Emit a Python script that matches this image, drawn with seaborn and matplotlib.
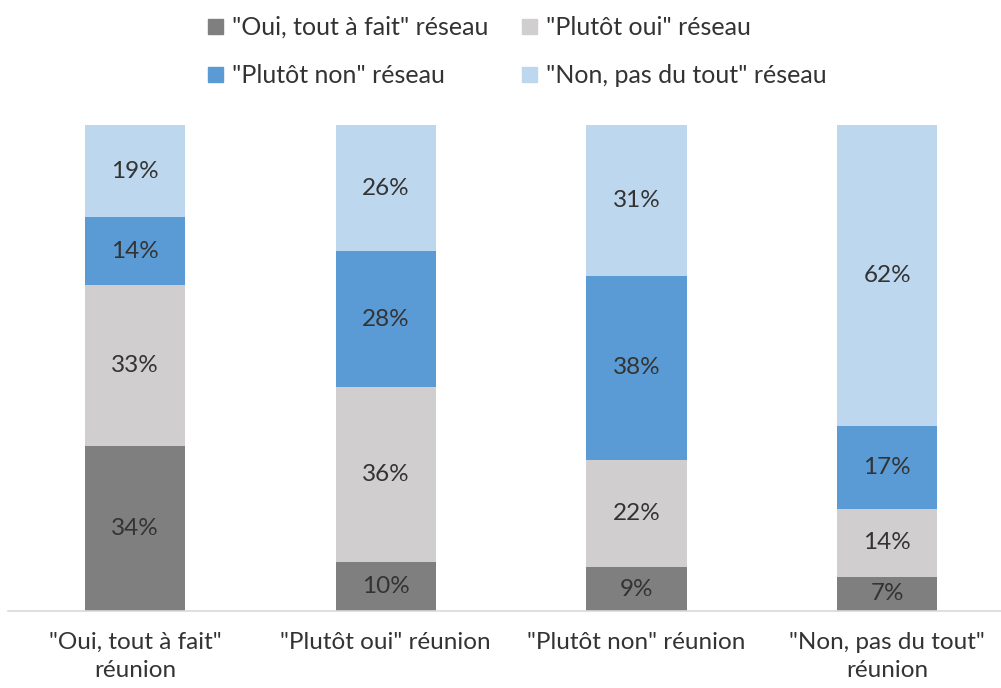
import numpy as np
import pandas as pd
import matplotlib
matplotlib.use("Agg")
import matplotlib.pyplot as plt
import seaborn as sns
from matplotlib.patches import Patch

# data (percent)
categories = ['"Oui, tout à fait"\nréunion', '"Plutôt oui" réunion',
              '"Plutôt non" réunion', '"Non, pas du tout"\nréunion']
series_names = ['"Oui, tout à fait" réseau', '"Plutôt oui" réseau',
                '"Plutôt non" réseau', '"Non, pas du tout" réseau']
oui_tout = [34, 10, 9, 7]
plutot_oui = [33, 36, 22, 14]
plutot_non = [14, 28, 38, 17]
non_pas = [19, 26, 31, 62]

colors = ["#7f7f7f", "#d0cece", "#5b9bd5", "#bdd7ee"]
txt = "#333333"

sns.set_theme(style="white")
plt.rcParams["font.family"] = ["Lato", "DejaVu Sans"]

layers = np.array([oui_tout, plutot_oui, plutot_non, non_pas], dtype=float)
cum = layers.cumsum(axis=0)

fig = plt.figure(figsize=(10.01, 6.88), dpi=100)
ax = fig.add_axes([8 / 1001, 1 - 611 / 688, (1001 - 8) / 1001, 486 / 688])

# stacked bars: draw cumulative totals from top layer down
for i in range(len(layers) - 1, -1, -1):
    df = pd.DataFrame({"cat": categories, "val": cum[i]})
    sns.barplot(data=df, x="cat", y="val", color=colors[i], width=0.4,
                saturation=1, linewidth=0, ax=ax)

for i in range(len(layers)):
    for j in range(len(categories)):
        mid = cum[i, j] - layers[i, j] / 2
        ax.text(j, mid, f"{int(layers[i, j])}%", ha="center", va="center",
                fontsize=17.5, color=txt)

ax.set_xlim(-0.507, 3.454)
ax.set_ylim(0, 100)
ax.set_xlabel("")
ax.set_ylabel("")
ax.set_yticks([])
for s in ["top", "right", "left"]:
    ax.spines[s].set_visible(False)
ax.spines["bottom"].set_color("#d9d9d9")
ax.spines["bottom"].set_linewidth(1.2)
ax.tick_params(axis="x", length=0, pad=15, labelsize=17.5, labelcolor=txt)
for lab in ax.get_xticklabels():
    lab.set_linespacing(1.45)

handles = [Patch(color=colors[k], label=series_names[k]) for k in [0, 2, 1, 3]]
fig.legend(handles=handles, ncol=2, frameon=False, loc="upper left",
           bbox_to_anchor=(208 / 1001, 1 - 16 / 688), fontsize=18,
           handlelength=0.6, handleheight=0.55, handletextpad=0.35,
           columnspacing=1.35, labelspacing=1.0, borderpad=0,
           borderaxespad=0, labelcolor=txt)

fig.savefig("out.png", dpi=100, facecolor="white")
